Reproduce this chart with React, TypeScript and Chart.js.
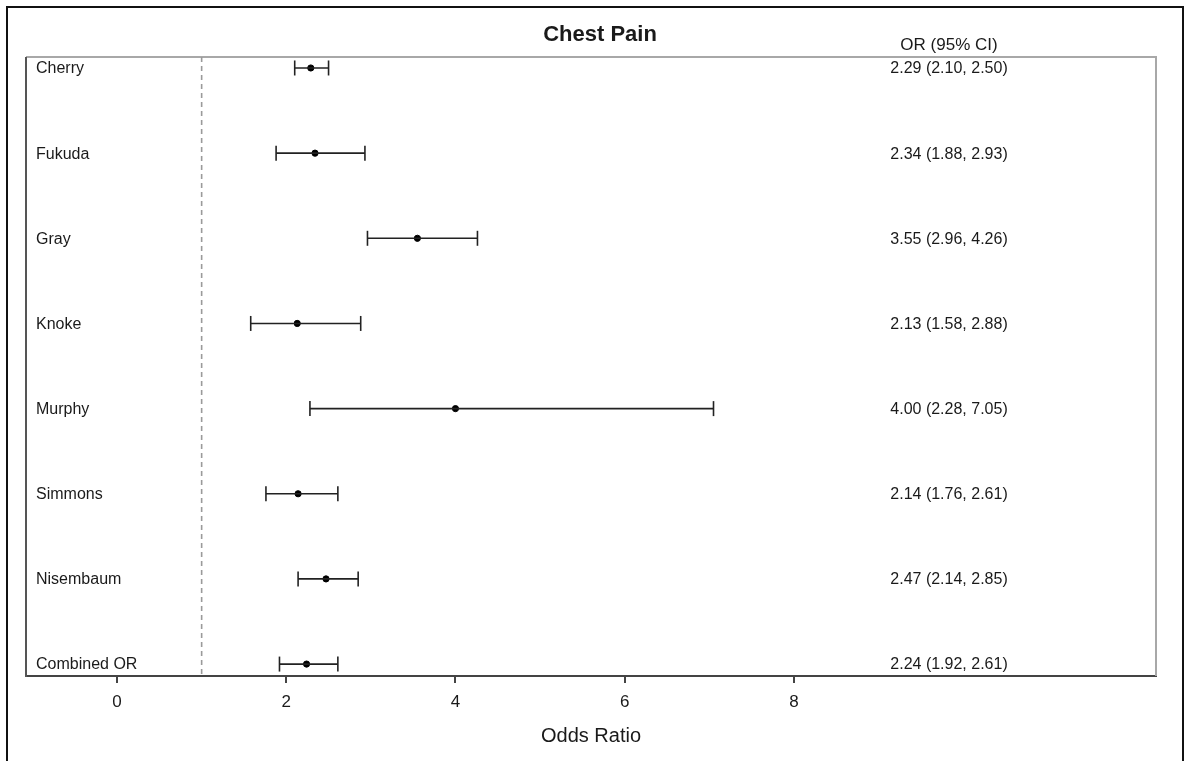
import React, { useEffect, useRef } from "react";
import { Chart, registerables } from "chart.js";

Chart.register(...registerables);

const studies = ["Cherry", "Fukuda", "Gray", "Knoke", "Murphy", "Simmons", "Nisembaum", "Combined OR"];
const oddsRatios = [2.29, 2.34, 3.55, 2.13, 4.0, 2.14, 2.47, 2.24];
const ciLower = [2.1, 1.88, 2.96, 1.58, 2.28, 1.76, 2.14, 1.92];
const ciUpper = [2.5, 2.93, 4.26, 2.88, 7.05, 2.61, 2.85, 2.61];
const xTicks = [0, 2, 4, 6, 8];
const referenceValue = 1;
const titleText = "Chest Pain";
const columnHeader = "OR (95% CI)";
const xAxisTitle = "Odds Ratio";

const FONT = '"Liberation Sans", Arial, Helvetica, sans-serif';
const X_MIN = -1.076;
const X_MAX = 12.28;
const Y_MIN = -0.129;
const Y_MAX = 7.14;

const decorPlugin = {
  id: "forestDecor",
  beforeDatasetsDraw(chart: any) {
    const { ctx, chartArea } = chart;
    ctx.save();
    ctx.strokeStyle = "#a8a8a8";
    ctx.lineWidth = 2;
    ctx.beginPath();
    ctx.moveTo(chartArea.left, chartArea.top);
    ctx.lineTo(chartArea.right, chartArea.top);
    ctx.lineTo(chartArea.right, chartArea.bottom);
    ctx.stroke();
    ctx.strokeStyle = "#555";
    ctx.beginPath();
    ctx.moveTo(chartArea.left, chartArea.top);
    ctx.lineTo(chartArea.left, chartArea.bottom + 1);
    ctx.stroke();
    ctx.restore();
  },
  afterDraw(chart: any) {
    const { ctx, chartArea, scales } = chart;
    const y = scales.y;
    ctx.save();
    ctx.strokeStyle = "#111";
    ctx.lineWidth = 2;
    ctx.strokeRect(7, 7, 1176, 800);

    ctx.fillStyle = "#1a1a1a";
    ctx.textBaseline = "middle";
    ctx.font = `bold 22px ${FONT}`;
    ctx.textAlign = "center";
    ctx.fillText(titleText, 600, 35);
    ctx.font = `17px ${FONT}`;
    ctx.fillText(columnHeader, 949, 45);

    ctx.font = `16px ${FONT}`;
    studies.forEach((name, i) => {
      const py = y.getPixelForValue(i) + 1;
      ctx.textAlign = "left";
      ctx.fillText(name, chartArea.left + 10, py);
      ctx.textAlign = "center";
      const txt = `${oddsRatios[i].toFixed(2)} (${ciLower[i].toFixed(2)}, ${ciUpper[i].toFixed(2)})`;
      ctx.fillText(txt, 949, py);
    });
    ctx.restore();
  },
};

export default function App() {
  const canvasRef = useRef<HTMLCanvasElement | null>(null);

  useEffect(() => {
    if (!canvasRef.current) return;
    const ciDatasets = studies.map((s, i) => ({
      type: "line" as const,
      label: s + " CI",
      data: [
        { x: ciLower[i], y: i },
        { x: ciUpper[i], y: i },
      ],
      borderColor: "#222",
      borderWidth: 1.6,
      pointStyle: "line" as const,
      rotation: 90,
      pointRadius: 7.5,
      pointBorderWidth: 1.6,
      pointBorderColor: "#222",
      pointHoverRadius: 7.5,
      fill: false,
    }));
    const chart = new Chart(canvasRef.current, {
      type: "scatter",
      data: {
        datasets: [
          {
            type: "line",
            label: "reference",
            data: [
              { x: referenceValue, y: Y_MIN },
              { x: referenceValue, y: Y_MAX },
            ],
            borderColor: "#9a9a9a",
            borderWidth: 1.6,
            borderDash: [5, 4],
            pointRadius: 0,
            fill: false,
          },
          ...ciDatasets,
          {
            type: "scatter",
            label: "OR",
            data: oddsRatios.map((v, i) => ({ x: v, y: i })),
            backgroundColor: "#000",
            borderColor: "#000",
            pointRadius: 3.1,
            pointStyle: "circle",
          },
        ] as any,
      },
      options: {
        animation: false,
        responsive: false,
        maintainAspectRatio: false,
        events: [],
        layout: { padding: { left: 26, right: 36, top: 57, bottom: 0 } },
        plugins: {
          legend: { display: false },
          tooltip: { enabled: false },
          title: { display: false },
        },
        scales: {
          x: {
            type: "linear",
            min: X_MIN,
            max: X_MAX,
            afterBuildTicks: (scale: any) => {
              scale.ticks = xTicks.map((v) => ({ value: v }));
            },
            afterFit: (scale: any) => {
              scale.height = 85;
            },
            ticks: {
              color: "#1a1a1a",
              font: { family: FONT, size: 17 },
              padding: 9,
              maxRotation: 0,
              autoSkip: false,
            },
            grid: {
              drawOnChartArea: false,
              drawTicks: true,
              tickLength: 7,
              color: "#444",
              lineWidth: 2,
            },
            border: { display: true, color: "#444", width: 2 },
            title: {
              display: true,
              text: xAxisTitle,
              color: "#1a1a1a",
              font: { family: FONT, size: 20 },
              padding: { top: 0, bottom: 13 },
            },
          },
          y: {
            type: "linear",
            display: false,
            reverse: true,
            min: Y_MIN,
            max: Y_MAX,
          },
        },
      } as any,
      plugins: [decorPlugin],
    });
    return () => chart.destroy();
  }, []);

  return (
    <div style={{ position: "fixed", left: 0, top: 0, width: 1192, height: 761, background: "#fff" }}>
      <canvas ref={canvasRef} width={1192} height={761} style={{ width: 1192, height: 761, display: "block" }} />
    </div>
  );
}
